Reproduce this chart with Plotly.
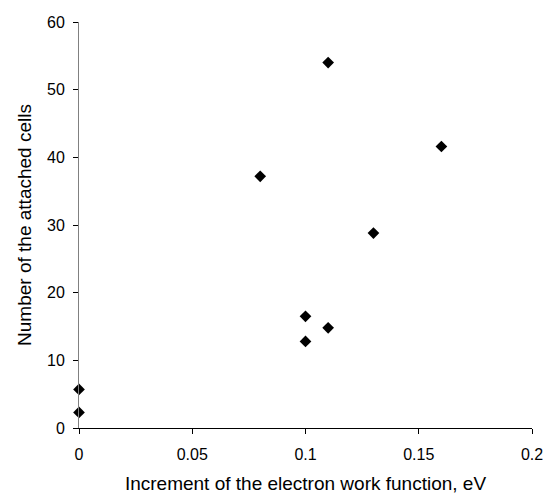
import plotly.graph_objects as go

x_vals = [0, 0, 0.08, 0.10, 0.10, 0.11, 0.11, 0.13, 0.16]
y_vals = [5.7, 2.3, 37.2, 16.5, 12.8, 14.8, 54.0, 28.8, 41.6]

x_ticks = [0, 0.05, 0.1, 0.15, 0.2]
x_labels = ["0", "0.05", "0.1", "0.15", "0.2"]
y_ticks = [0, 10, 20, 30, 40, 50, 60]

font = "Liberation Sans, Arial, sans-serif"

fig = go.Figure()
fig.add_trace(go.Scatter(
    x=x_vals, y=y_vals, mode="markers",
    marker=dict(symbol="diamond", size=9, color="black"),
    cliponaxis=False, showlegend=False,
))
fig.update_layout(
    width=554, height=496,
    margin=dict(l=79, r=22, t=22, b=68),
    paper_bgcolor="white", plot_bgcolor="white",
    font=dict(family=font, size=16, color="black"),
)
fig.update_xaxes(
    range=[0, 0.2], tickvals=x_ticks, ticktext=x_labels, automargin=False,
    showgrid=False, zeroline=False, showline=True, linecolor="black", linewidth=1,
    ticks="outside", ticklen=5, tickcolor="black", ticklabelstandoff=7,
    title=dict(text="Increment of the electron work function, eV", standoff=14),
)
fig.update_yaxes(
    range=[0, 60], tickvals=y_ticks, automargin=False,
    showgrid=False, zeroline=False, showline=True, linecolor="#808080", linewidth=1,
    ticks="outside", ticklen=5, tickcolor="black", ticklabelstandoff=5,
    title=dict(text="Number of the attached cells", standoff=10),
)
fig.write_html("out.html")
